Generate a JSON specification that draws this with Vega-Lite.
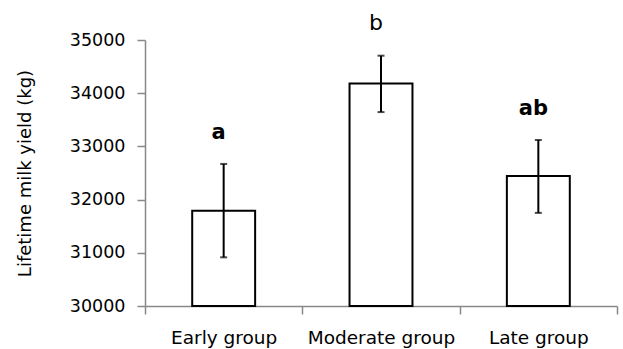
{
  "$schema": "https://vega.github.io/schema/vega-lite/v6.json",
  "autosize": {"type": "none"},
  "width": 472,
  "height": 266,
  "padding": {"left": 145, "top": 40, "right": 6, "bottom": 43},
  "background": "white",
  "config": {"view": {"stroke": null}, "font": "DejaVu Sans"},
  "data": {"values": [
    {"group": "Early group", "mean": 31790, "lo": 30915, "hi": 32670, "label": "a"},
    {"group": "Moderate group", "mean": 34180, "lo": 33645, "hi": 34705, "label": "b"},
    {"group": "Late group", "mean": 32445, "lo": 31750, "hi": 33120, "label": "ab"}
  ]},
  "encoding": {
    "x": {
      "field": "group", "type": "nominal", "sort": null,
      "scale": {"paddingInner": 0, "paddingOuter": 0},
      "axis": {
        "title": null, "labelAngle": 0, "labelFontSize": 18.5, "labelColor": "black",
        "labelPadding": 14, "domainColor": "#888888", "tickColor": "#888888",
        "ticks": true, "tickSize": 8, "tickWidth": 1.5, "domainWidth": 1.5, "tickBand": "extent", "grid": false
      }
    }
  },
  "layer": [
    {
      "mark": {"type": "bar", "fill": "white", "stroke": "black", "strokeWidth": 2, "width": {"band": 0.4}},
      "encoding": {
        "y": {
          "field": "mean", "type": "quantitative",
          "scale": {"domain": [30000, 35000], "zero": false, "nice": false},
          "axis": {
            "title": "Lifetime milk yield (kg)", "titleFontSize": 18, "titleFontWeight": "normal",
            "titleColor": "black", "titleX": -120, "titleY": 133, "titleBaseline": "middle",
            "titleAngle": -90, "titleAnchor": "middle",
            "values": [30000, 31000, 32000, 33000, 34000, 35000], "format": "d",
            "labelFontSize": 17.5, "labelColor": "black", "labelPadding": 12,
            "domainColor": "#888888", "tickColor": "#888888", "tickSize": 8,
            "tickWidth": 1.5, "domainWidth": 1.5, "grid": false
          }
        },
        "y2": {"datum": 30000}
      }
    },
    {
      "mark": {"type": "rule", "color": "black", "strokeWidth": 2},
      "encoding": {
        "y": {"field": "lo", "type": "quantitative"},
        "y2": {"field": "hi"}
      }
    },
    {
      "mark": {"type": "tick", "color": "black", "size": 7, "thickness": 2},
      "encoding": {"y": {"field": "lo", "type": "quantitative"}}
    },
    {
      "mark": {"type": "tick", "color": "black", "size": 7, "thickness": 2},
      "encoding": {"y": {"field": "hi", "type": "quantitative"}}
    },
    {
      "transform": [{"filter": "datum.label !== 'b'"}],
      "mark": {"type": "text", "fontSize": 21, "fontWeight": "bold", "baseline": "alphabetic", "dy": -25, "dx": -5, "color": "black"},
      "encoding": {
        "y": {"field": "hi", "type": "quantitative"},
        "text": {"field": "label"}
      }
    },
    {
      "transform": [{"filter": "datum.label === 'b'"}],
      "mark": {"type": "text", "fontSize": 22, "baseline": "alphabetic", "dy": -26, "dx": -5, "color": "black"},
      "encoding": {
        "y": {"field": "hi", "type": "quantitative"},
        "text": {"field": "label"}
      }
    }
  ]
}
